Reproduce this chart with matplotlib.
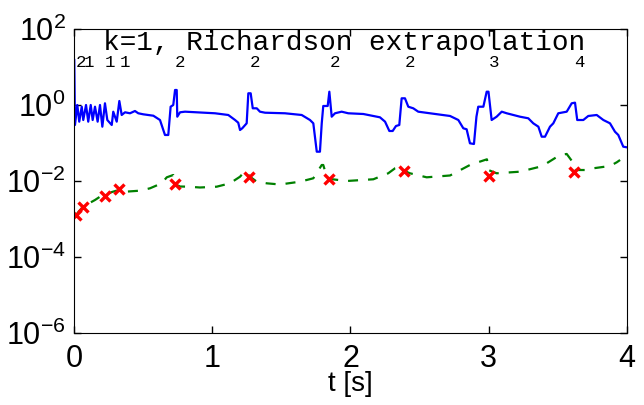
import numpy as np
import matplotlib
matplotlib.use("Agg")
import matplotlib.pyplot as plt
from matplotlib.ticker import FixedLocator, FuncFormatter, NullLocator

# ----------------------------
# Data (errors stored as log10 exponents)
# ----------------------------
# blue: true error
t_err = [0.002, 0.007, 0.024, 0.038, 0.056, 0.067, 0.087, 0.103, 0.121, 0.135,
         0.152, 0.171, 0.188, 0.205, 0.224, 0.241, 0.273, 0.284, 0.309, 0.328,
         0.345, 0.369, 0.405, 0.441, 0.465, 0.501, 0.574, 0.622, 0.658, 0.682,
         0.699, 0.718, 0.731, 0.743, 0.747, 0.767, 0.803, 1.020, 1.116, 1.165,
         1.188, 1.201, 1.217, 1.249, 1.261, 1.278, 1.293, 1.322, 1.345, 1.382,
         1.526, 1.647, 1.707, 1.731, 1.756, 1.779, 1.792, 1.803, 1.835, 1.847,
         1.864, 1.888, 1.936, 1.984, 2.093, 2.213, 2.250, 2.281, 2.305, 2.329,
         2.353, 2.370, 2.394, 2.418, 2.454, 2.490, 2.575, 2.720, 2.780, 2.816,
         2.840, 2.864, 2.893, 2.911, 2.924, 2.961, 2.985, 2.998, 3.021, 3.057,
         3.094, 3.130, 3.226, 3.286, 3.322, 3.359, 3.383, 3.407, 3.443, 3.467,
         3.503, 3.564, 3.600, 3.624, 3.640, 3.684, 3.720, 3.781, 3.829, 3.877,
         3.913, 3.937, 3.973, 3.998]
err_log10 = [1.184, -0.526, 0.000, -0.439, -0.045, -0.395, 0.000, -0.439, 0.000, -0.395,
             -0.045, -0.439, 0.000, -0.571, 0.045, -0.395, -0.526, -0.176, -0.439, 0.105,
             -0.263, -0.192, -0.218, -0.158, -0.218, -0.245, -0.282, -0.395, -0.789, -0.789,
             -0.045, 0.000, 0.395, 0.395, -0.308, -0.192, -0.176, -0.218, -0.263, -0.395,
             -0.466, -0.658, -0.613, -0.482, 0.308, 0.308, -0.087, -0.087, -0.176, -0.203,
             -0.218, -0.263, -0.395, -0.482, -1.229, -1.229, -0.482, -0.026, -0.026, 0.350,
             -0.308, -0.218, -0.176, -0.218, -0.237, -0.324, -0.439, -0.684, -0.684, -0.553,
             -0.526, 0.176, 0.176, -0.045, -0.087, -0.176, -0.218, -0.289, -0.395, -0.613,
             -0.639, -1.008, -1.026, -0.308, -0.045, -0.045, 0.350, 0.350, -0.395, -0.308,
             -0.176, -0.218, -0.308, -0.350, -0.482, -0.571, -0.834, -0.834, -0.571, -0.482,
             -0.218, -0.176, 0.045, 0.061, -0.395, -0.395, -0.289, -0.263, -0.395, -0.482,
             -0.703, -0.789, -1.097, -1.113]

# green: estimated error
t_est = [0.014, 0.065, 0.152, 0.188, 0.224, 0.275, 0.325, 0.369, 0.477, 0.550,
         0.634, 0.671, 0.718, 0.727, 0.767, 0.827, 0.911, 1.032, 1.128, 1.201,
         1.237, 1.273, 1.322, 1.394, 1.490, 1.635, 1.731, 1.792, 1.803, 1.828,
         1.852, 1.973, 2.165, 2.273, 2.322, 2.358, 2.373, 2.430, 2.551, 2.720,
         2.864, 2.913, 2.987, 2.997, 3.057, 3.226, 3.371, 3.419, 3.515, 3.564,
         3.612, 3.624, 3.709, 3.756, 3.877, 3.926, 3.950]
est_log10 = [-2.895, -2.676, -2.500, -2.413, -2.368, -2.289, -2.237, -2.282, -2.255, -2.192,
             -2.061, -1.903, -1.842, -2.079, -2.145, -2.150, -2.171, -2.150, -2.061, -1.887,
             -1.737, -1.887, -2.018, -2.061, -2.092, -2.018, -1.929, -1.579, -1.579, -1.887,
             -1.947, -2.000, -1.955, -1.797, -1.666, -1.632, -1.711, -1.797, -1.903, -1.855,
             -1.579, -1.518, -1.429, -1.711, -1.797, -1.755, -1.624, -1.534, -1.316, -1.289,
             -1.526, -1.711, -1.711, -1.666, -1.605, -1.508, -1.447]

# red crosses: extrapolation steps, with the order used at each step
t_step = [0.0145, 0.067, 0.224, 0.328, 0.731, 1.268, 1.847, 2.389, 3.004, 3.619]
step_log10 = [-2.895, -2.676, -2.395, -2.218, -2.066, -1.903, -1.947, -1.729, -1.861, -1.755]
step_order = ["2", "1", "1", "1", "2", "2", "2", "2", "3", "4"]

title = "k=1, Richardson extrapolation"


def log_label(v, pos):
    return r"$\mathregular{10^{%d}}$" % int(round(np.log10(v)))


def main():
    plt.rcParams["font.family"] = ["Liberation Sans", "DejaVu Sans"]
    plt.rcParams["mathtext.fontset"] = "custom"
    plt.rcParams["mathtext.rm"] = "Liberation Sans"

    fig = plt.figure(figsize=(6.44, 4.05), dpi=100)
    ax = fig.add_axes([0.1149, 0.1778, 0.8587, 0.7506])

    ax.semilogy(t_err, np.power(10.0, err_log10), "b-", lw=1.6)
    ax.semilogy(t_est, np.power(10.0, est_log10), "g--", lw=1.6, dashes=(4.5, 4.5))
    ax.semilogy(t_step, np.power(10.0, step_log10), "rx", ms=7, mew=2.4)

    # order used at each step, printed just under the title
    for t, s in zip(t_step, step_order):
        ax.text(t, 10.0, s, family="Liberation Mono", fontsize=12.5,
                ha="left", va="baseline")

    ax.text(0.489, 0.931, title, transform=ax.transAxes, family="Liberation Mono",
            fontsize=20, ha="center", va="baseline")

    ax.set_xlim(0, 4)
    ax.set_ylim(1e-6, 1e2)
    ax.xaxis.set_major_locator(FixedLocator([0, 1, 2, 3, 4]))
    ax.yaxis.set_major_locator(FixedLocator([1e-6, 1e-4, 1e-2, 1e0, 1e2]))
    ax.yaxis.set_major_formatter(FuncFormatter(log_label))
    ax.yaxis.set_minor_locator(NullLocator())

    ax.tick_params(direction="in", length=5, width=1, top=True, right=True, labelsize=22)
    ax.tick_params(axis="x", pad=8)
    ax.tick_params(axis="y", pad=6)
    ax.set_xlabel("t [s]", fontsize=20, labelpad=-2)

    fig.savefig("out.png", dpi=100)


if __name__ == "__main__":
    main()
